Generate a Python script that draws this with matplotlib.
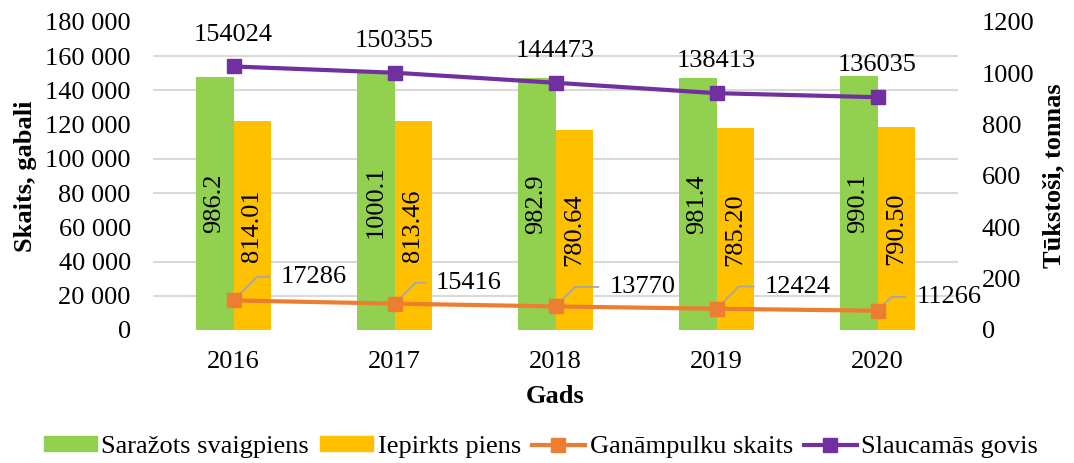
import numpy as np
import matplotlib
matplotlib.use("Agg")
import matplotlib.pyplot as plt
from matplotlib.lines import Line2D
from matplotlib.patches import Patch

years = ["2016", "2017", "2018", "2019", "2020"]
produced = [986.2, 1000.1, 982.9, 981.4, 990.1]          # Saražots svaigpiens (thous. t)
purchased = [814.01, 813.46, 780.64, 785.20, 790.50]     # Iepirkts piens (thous. t)
herds = [17286, 15416, 13770, 12424, 11266]              # Ganāmpulku skaits
cows = [154024, 150355, 144473, 138413, 136035]          # Slaucamās govis
produced_labels = ["986.2", "1000.1", "982.9", "981.4", "990.1"]
purchased_labels = ["814.01", "813.46", "780.64", "785.20", "790.50"]
left_ticks = np.arange(0, 180001, 20000)
right_ticks = np.arange(0, 1201, 200)

# label offsets (points) for the herd-count labels
herd_off = [(34, 17), (30, 15), (39, 14), (35, 16), (28, 10)]

plt.rcParams['font.family'] = ['Liberation Serif', 'DejaVu Serif']
FS = 19

green = '#92D050'
yellow = '#FFC000'
orange = '#ED7D31'
purple = '#7030A0'
grid_c = '#D9D9D9'

fig = plt.figure(figsize=(10.74, 4.63), dpi=100)
ax = fig.add_axes([153/1074, 1 - 330/463, (958-153)/1074, (330-22)/463])
axl = ax.twinx()

# bars on right-hand axis (ax), lines on left-hand axis (axl)
ax.yaxis.tick_right()
ax.yaxis.set_label_position('right')
axl.yaxis.tick_left()
axl.yaxis.set_label_position('left')

x = np.arange(len(years))
w = 0.236
b1 = ax.bar(x - w/2, produced, w, color=green, zorder=3)
b2 = ax.bar(x + w/2, purchased, w, color=yellow, zorder=3)
ax.set_ylim(0, 1200)
ax.set_xlim(-0.5, len(years) - 0.5)
ax.set_yticks(right_ticks)
ax.set_yticklabels([str(v) for v in right_ticks], fontsize=FS)
# gridlines aligned with left-axis ticks
ax.set_yticks(left_ticks * 1200 / 180000, minor=True)
ax.grid(which='minor', axis='y', color=grid_c, linewidth=1.5, zorder=0)
ax.tick_params(axis='y', which='both', length=0, pad=17)
ax.set_xticks(x)
ax.set_xticklabels(years, fontsize=FS)
ax.tick_params(axis='x', length=0, pad=15)
for s in ax.spines.values():
    s.set_visible(False)
for s in axl.spines.values():
    s.set_visible(False)

for rect, lab in zip(b1, produced_labels):
    ax.text(rect.get_x() + rect.get_width()/2, rect.get_height()/2, lab,
            rotation=90, ha='center', va='center', fontsize=FS, zorder=4)
for rect, lab in zip(b2, purchased_labels):
    ax.text(rect.get_x() + rect.get_width()/2, rect.get_height()/2, lab,
            rotation=90, ha='center', va='center', fontsize=FS, zorder=4)

axl.plot(x, cows, color=purple, lw=3, marker='s', ms=9.5, zorder=5)
axl.plot(x, herds, color=orange, lw=3, marker='s', ms=9.5, zorder=5)
axl.set_ylim(0, 180000)
axl.set_yticks(left_ticks)
axl.set_yticklabels([f"{v:,}".replace(",", " ") for v in left_ticks], fontsize=FS)
axl.tick_params(axis='y', length=0, pad=16)

for xi, v in zip(x, cows):
    axl.annotate(str(v), (xi, v), xytext=(0, 23), textcoords='offset points',
                 ha='center', va='center', fontsize=FS)
for xi, v, off in zip(x, herds, herd_off):
    axl.annotate(str(v), (xi, v), xytext=off, textcoords='offset points',
                 ha='left', va='center', fontsize=FS,
                 arrowprops=dict(arrowstyle='-', color='#A6A6A6', lw=1.3,
                                 relpos=(0, 0.5), shrinkA=6, shrinkB=0,
                                 connectionstyle='angle,angleA=0,angleB=45,rad=0'))

axl.set_ylabel("Skaits, gabali", fontsize=FS, fontweight='bold', labelpad=6)
ax.set_ylabel("Tūkstoši, tonnas", fontsize=FS, fontweight='bold', labelpad=6)
ax.set_xlabel("Gads", fontsize=FS, fontweight='bold', labelpad=9)

handles = [Patch(color=green), Patch(color=yellow),
           Line2D([], [], color=orange, lw=3, marker='s', ms=9.5),
           Line2D([], [], color=purple, lw=3, marker='s', ms=9.5)]
labels = ["Saražots svaigpiens", "Iepirkts piens", "Ganāmpulku skaits", "Slaucamās govis"]
fig.legend(handles, labels, loc='center', bbox_to_anchor=(541/1074, 16/463), ncol=4,
           frameon=False, fontsize=19, handlelength=2.0, handleheight=0.5,
           handletextpad=0.18, columnspacing=0.42)

fig.savefig("out.png", dpi=100)
